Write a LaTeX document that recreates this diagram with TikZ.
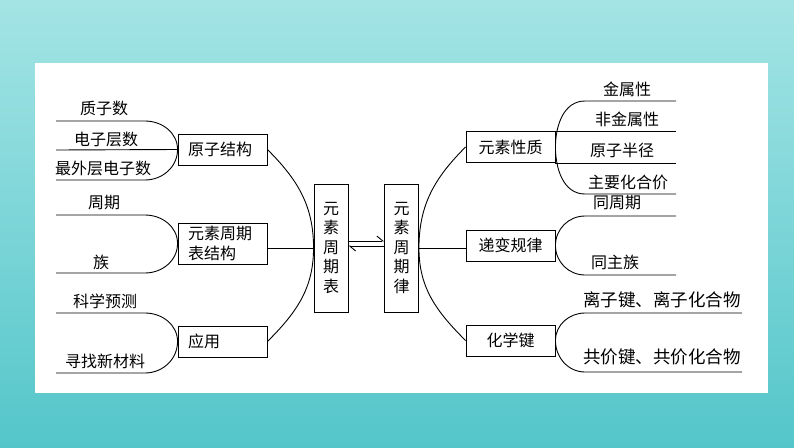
\documentclass[tikz,border=0pt]{standalone}
\usepackage{fontspec}
\setmainfont{Noto Sans CJK SC}
\usetikzlibrary{arrows.meta}
\definecolor{bgtop}{RGB}{164,228,229}
\definecolor{bgbottom}{RGB}{84,198,202}

\begin{document}
\begin{tikzpicture}[
    x=1pt, y=1pt,
    line width=0.9pt,
    lbox/.style={draw, fill=white, text width=69pt, inner xsep=10pt, inner ysep=1pt, minimum height=31pt, align=left, font=\fontsize{16}{20}\selectfont},
    rbox/.style={draw, fill=white, minimum width=89pt, minimum height=31pt, inner sep=1pt, font=\fontsize{16}{20}\selectfont},
    vbox/.style={draw, fill=white, minimum width=34pt, minimum height=128pt, inner sep=1pt, align=center, font=\fontsize{16}{19.5}\selectfont},
    leaf/.style={inner sep=0pt, font=\fontsize{16}{19}\selectfont},
    bigleaf/.style={inner sep=0pt, font=\fontsize{17.5}{20}\selectfont},
    harp/.style={-{Straight Barb[harpoon, length=6pt, width=10pt]}}
]
    % Background
    \fill[top color=bgtop, bottom color=bgbottom] (0,0) rectangle (794,-447);
    \fill[white] (35,-63) rectangle (768,-393);

    % Centre boxes
    \node[vbox] (zb) at (331,-248) {元\\素\\周\\期\\表};
    \node[vbox] (zl) at (401.5,-248) {元\\素\\周\\期\\律};

    % Left boxes
    \node[lbox] (yz) at (222.5,-149.5) {原子结构};
    \node[lbox, minimum height=41pt] (jg) at (222.5,-243.5) {元素周期\\表结构};
    \node[lbox] (yy) at (222.5,-341.5) {应用};

    % Right boxes
    \node[rbox] (xz) at (510.5,-147) {元素性质};
    \node[rbox] (dg) at (510.5,-245.5) {递变规律};
    \node[rbox] (hx) at (510.5,-340.5) {化学键};

    % Left leaves
    \node[leaf] (zzs) at (104,-108) {质子数};
    \node[leaf] (dzcs) at (106,-139) {电子层数};
    \node[leaf] (zwc) at (103,-168) {最外层电子数};
    \node[leaf] (zq) at (104,-203) {周期};
    \node[leaf] (zu) at (101,-262) {族};
    \node[leaf] (kxyc) at (105,-301) {科学预测};
    \node[leaf] (xzcl) at (105,-361) {寻找新材料};

    % Right leaves
    \node[leaf] (jsx) at (627,-89) {金属性};
    \node[leaf] (fjsx) at (627,-119) {非金属性};
    \node[leaf] (yzbj) at (622,-150) {原子半径};
    \node[leaf] (zyhhj) at (628,-182) {主要化合价};
    \node[leaf] (tzq) at (617,-203) {同周期};
    \node[leaf] (tzz) at (615,-262) {同主族};
    \node[bigleaf] (lzj) at (662,-300) {离子键、离子化合物};
    \node[bigleaf] (gjj) at (662,-357) {共价键、共价化合物};

    % Free ends of the underlines
    \coordinate (l1) at (56,-121);  \coordinate (m1) at (145,-121);
    \coordinate (l2) at (56,-150);
    \coordinate (l3) at (56,-180);  \coordinate (m3) at (145,-180);
    \coordinate (l4) at (56,-215);  \coordinate (m4) at (145,-215);
    \coordinate (l5) at (56,-273);  \coordinate (m5) at (145,-273);
    \coordinate (l6) at (56,-313);  \coordinate (m6) at (145,-313);
    \coordinate (l7) at (56,-373);  \coordinate (m7) at (145,-373);
    \coordinate (r1) at (676,-101); \coordinate (s1) at (585,-101);
    \coordinate (r4) at (676,-194); \coordinate (s4) at (585,-194);
    \coordinate (r5) at (676,-216); \coordinate (s5) at (585,-216);
    \coordinate (r6) at (676,-275); \coordinate (s6) at (585,-275);
    \coordinate (r7) at (742,-313); \coordinate (s7) at (585,-313);
    \coordinate (r8) at (742,-372); \coordinate (s8) at (585,-372);

    % Left brackets
    \draw (l1) -- (m1) to[out=0,in=90] (yz.west) to[out=-90,in=0] (m3) -- (l3);
    \draw (l2) -- (yz.west);
    \draw (l4) -- (m4) to[out=0,in=90] (jg.west) to[out=-90,in=0] (m5) -- (l5);
    \draw (l6) -- (m6) to[out=0,in=90] (yy.west) to[out=-90,in=0] (m7) -- (l7);

    % Right brackets
    \draw (r1) -- (s1) to[out=180,in=90] (xz.east) to[out=-90,in=180] (s4) -- (r4);
    \draw (xz.north east) -- (xz.north east -| r1);
    \draw (xz.south east) -- (xz.south east -| r1);
    \draw (r5) -- (s5) to[out=180,in=90] (dg.east) to[out=-90,in=180] (s6) -- (r6);
    \draw (r7) -- (s7) to[out=180,in=90] (hx.east) to[out=-90,in=180] (s8) -- (r8);

    % Big arcs and centre lines
    \draw (yz.east) to[out=-45,in=90] (zb.west) to[out=-90,in=45] (yy.east);
    \draw (jg.east |- zb.west) -- (zb.west);
    \draw (xz.west) to[out=-135,in=90] (zl.east) to[out=-90,in=135] (hx.west);
    \draw (zl.east) -- (zl.east -| dg.west);

    % Harpoons
    \draw[harp] ([yshift=7pt]zb.east) -- ([yshift=7pt]zl.west);
    \draw[harp] ([yshift=2pt]zl.west) -- ([yshift=2pt]zb.east);
\end{tikzpicture}
\end{document}
